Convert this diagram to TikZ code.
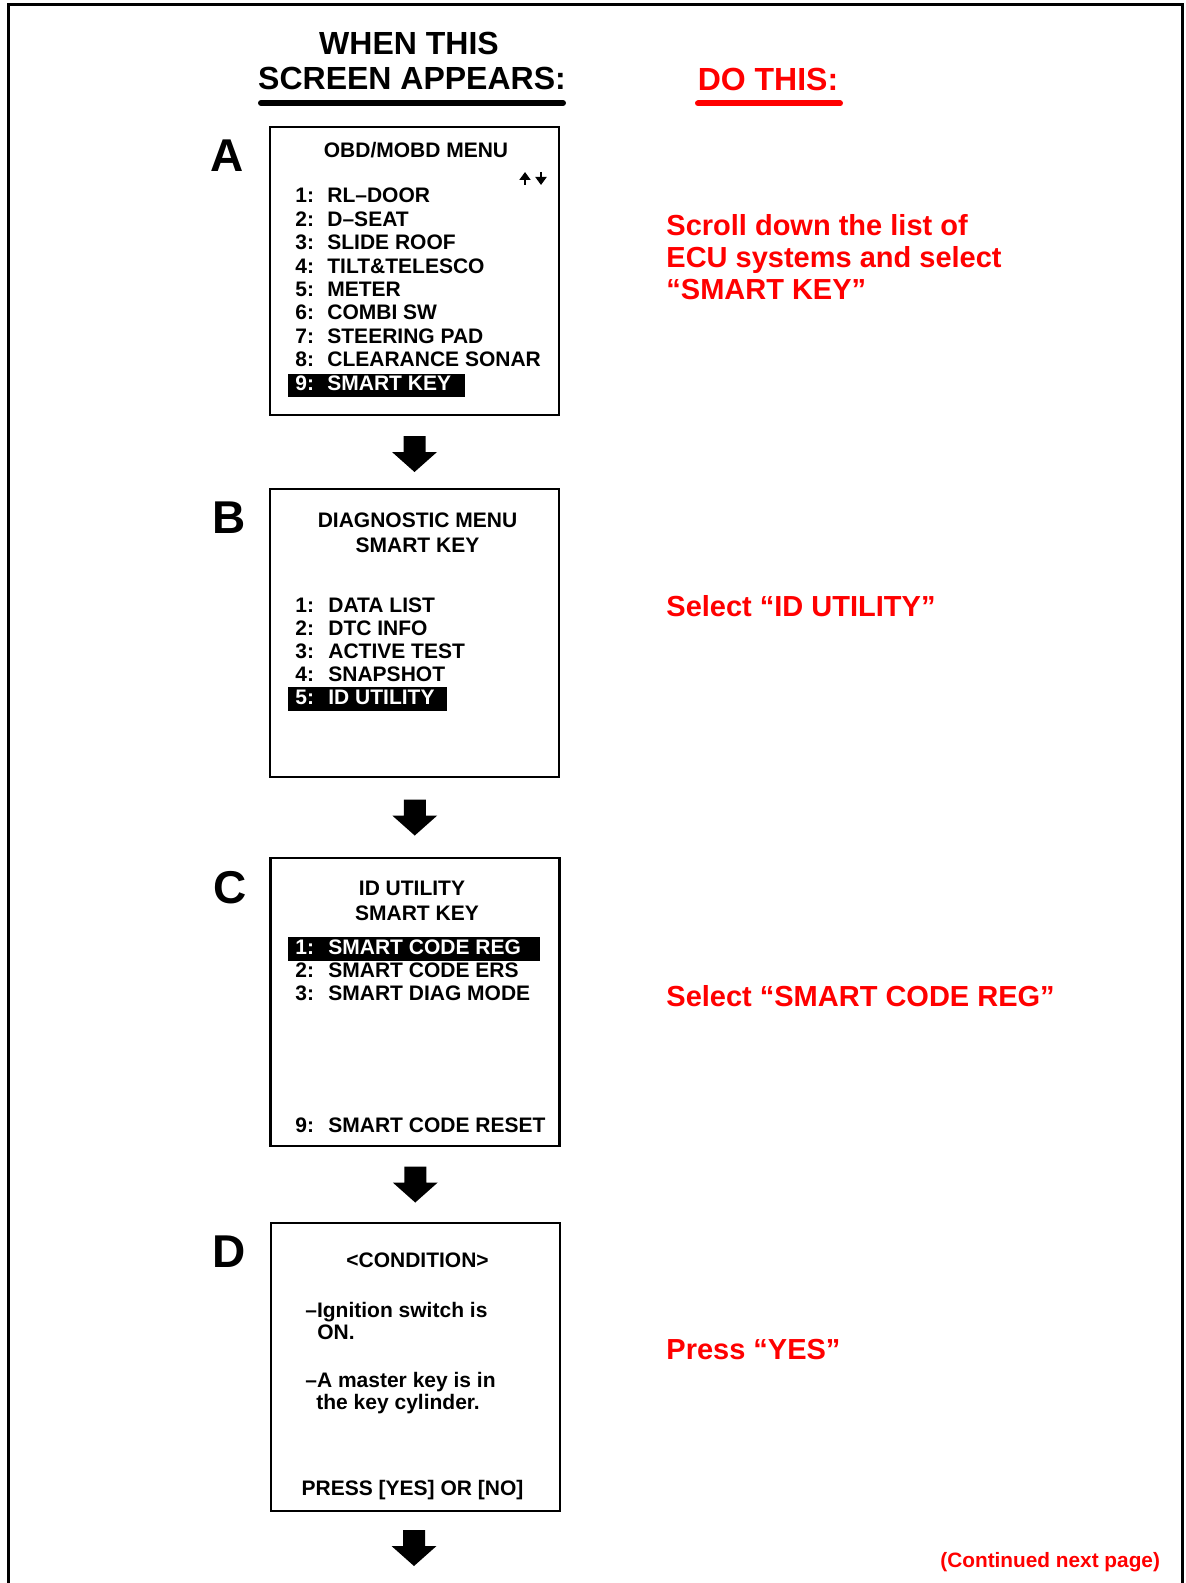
\documentclass[tikz,border=0pt]{standalone}
\usepackage{fontspec}
\setmainfont{Liberation Sans}
\usetikzlibrary{arrows.meta,calc}
\definecolor{dored}{RGB}{255,0,0}
\tikzset{
  frame/.style={line width=1.5pt},
  screen/.style={draw, line width=1.4pt, minimum width=144.5pt, minimum height=144pt, inner sep=0pt},
  boxtxt/.style={font=\fontsize{10.5pt}{12pt}\selectfont\bfseries, inner sep=0pt},
  item/.style={boxtxt, anchor=base west},
  title/.style={boxtxt, anchor=base},
  sel/.style={item, text=white},
  selbar/.style={fill=black},
  letter/.style={font=\fontsize{23pt}{26pt}\selectfont\bfseries, inner sep=0pt, anchor=base west},
  head/.style={font=\fontsize{16pt}{19pt}\selectfont\bfseries, inner sep=0pt, anchor=base},
  todo/.style={font=\fontsize{14.5pt}{16pt}\selectfont\bfseries, text=dored, inner sep=0pt, anchor=base west},
  uline/.style={line width=3pt, line cap=round},
  minarrow/.style={line width=1.4pt, -{Triangle[width=5.5pt,length=4pt]}},
  blockarrow/.pic={\fill (-11,-18) -- (11,-18) -- (11,-2) -- (22.5,-2) -- (0,18) -- (-22.5,-2) -- (-11,-2) -- cycle;}
}
\begin{document}
\begin{tikzpicture}[x=0.5pt,y=-0.5pt]
\useasboundingbox (0,0) rectangle (1186,1583);
\draw[frame] (8,1583) -- (8,4.5) -- (1182,4.5) -- (1182,1583);

% header
\node[head] (h1) at (409,55) {WHEN THIS};
\node[head] (h2) at (412,90) {SCREEN APPEARS:};
\node[head, text=dored] (h3) at (768,91) {DO THIS:};
\draw[uline] (261,103) -- (563,103);
\draw[uline, dored] (698,103.5) -- (840,103.5);

% screens
\node[screen] (A) at (414.5,271) {};
\node[screen] (B) at (414.5,633) {};
\node[screen] (C) at (415,1002) {};
\node[screen] (D) at (415.5,1367) {};

\node[letter] (LA) at (210,172) {A};
\node[letter] (LB) at (212,533) {B};
\node[letter] (LC) at (213,903) {C};
\node[letter] (LD) at (212,1267) {D};

% screen A
\node[title] (At) at (416,158) {OBD/MOBD MENU};
\draw[minarrow] (525,185) -- (525,172);
\draw[minarrow] (541,172) -- (541,185);
\fill[selbar] (288,374) rectangle (465,397);
\node[item] (An1) at (295,203) {1:};  \node[item] (Al1) at (327,203) {RL–DOOR};
\node[item] (An2) at (295,226.4) {2:};  \node[item] (Al2) at (327,226.4) {D–SEAT};
\node[item] (An3) at (295,249.8) {3:};  \node[item] (Al3) at (327,249.8) {SLIDE ROOF};
\node[item] (An4) at (295,273.2) {4:};  \node[item] (Al4) at (327,273.2) {TILT\&TELESCO};
\node[item] (An5) at (295,296.6) {5:};  \node[item] (Al5) at (327,296.6) {METER};
\node[item] (An6) at (295,320) {6:};  \node[item] (Al6) at (327,320) {COMBI SW};
\node[item] (An7) at (295,343.4) {7:};  \node[item] (Al7) at (327,343.4) {STEERING PAD};
\node[item] (An8) at (295,366.8) {8:};  \node[item] (Al8) at (327,366.8) {CLEARANCE SONAR};
\node[sel] (An9) at (295,390.2) {9:};  \node[sel] (Al9) at (327,390.2) {SMART KEY};

% screen B
\node[title] (Bt1) at (417.5,527) {DIAGNOSTIC MENU};
\node[title] (Bt2) at (417.5,552) {SMART KEY};
\fill[selbar] (288,687) rectangle (447,711);
\node[item] (Bn1) at (295,612) {1:};  \node[item] (Bl1) at (328,612) {DATA LIST};
\node[item] (Bn2) at (295,635) {2:};  \node[item] (Bl2) at (328,635) {DTC INFO};
\node[item] (Bn3) at (295,658) {3:};  \node[item] (Bl3) at (328,658) {ACTIVE TEST};
\node[item] (Bn4) at (295,681) {4:};  \node[item] (Bl4) at (328,681) {SNAPSHOT};
\node[sel] (Bn5) at (295,704) {5:};  \node[sel] (Bl5) at (328,704) {ID UTILITY};

% screen C
\node[title] (Ct1) at (412,895) {ID UTILITY};
\node[title] (Ct2) at (417,920) {SMART KEY};
\fill[selbar] (288,937) rectangle (540,961);
\node[sel] (Cn1) at (295,954) {1:};  \node[sel] (Cl1) at (328,954) {SMART CODE REG};
\node[item] (Cn2) at (295,977) {2:};  \node[item] (Cl2) at (328,977) {SMART CODE ERS};
\node[item] (Cn3) at (295,1000) {3:};  \node[item] (Cl3) at (328,1000) {SMART DIAG MODE};
\node[item] (Cn9) at (295,1132) {9:};  \node[item] (Cl9) at (328,1132) {SMART CODE RESET};

% screen D
\node[title] (Dt) at (417.5,1267) {<CONDITION>};
\node[item] (D1) at (305,1317) {–Ignition switch is};
\node[item] (D2) at (317,1339) {ON.};
\node[item] (D3) at (305,1387) {–A master key is in};
\node[item] (D4) at (316,1409) {the key cylinder.};
\node[title] (D5) at (412.5,1495) {PRESS [YES] OR [NO]};

% block arrows
\pic at ($(A.south)!0.5!(B.north)+(0,2)$) {blockarrow};
\pic at ($(B.south)!0.5!(C.north)$) {blockarrow};
\pic at ($(C.south)!0.5!(D.north)$) {blockarrow};
\coordinate (next) at (414,1548);
\pic at (next) {blockarrow};

% instructions
\node[todo] (r1) at (666,236) {Scroll down the list of};
\node[todo] (r2) at (666,268) {ECU systems and select};
\node[todo] (r3) at (666,300) {“SMART KEY”};
\node[todo] (r4) at (666,616) {Select “ID UTILITY”};
\node[todo] (r5) at (666,1006) {Select “SMART CODE REG”};
\node[todo] (r6) at (666,1359) {Press “YES”};
\node[todo, font=\fontsize{10.4pt}{12pt}\selectfont\bfseries] (r7) at (940,1567) {(Continued next page)};
\end{tikzpicture}
\end{document}
